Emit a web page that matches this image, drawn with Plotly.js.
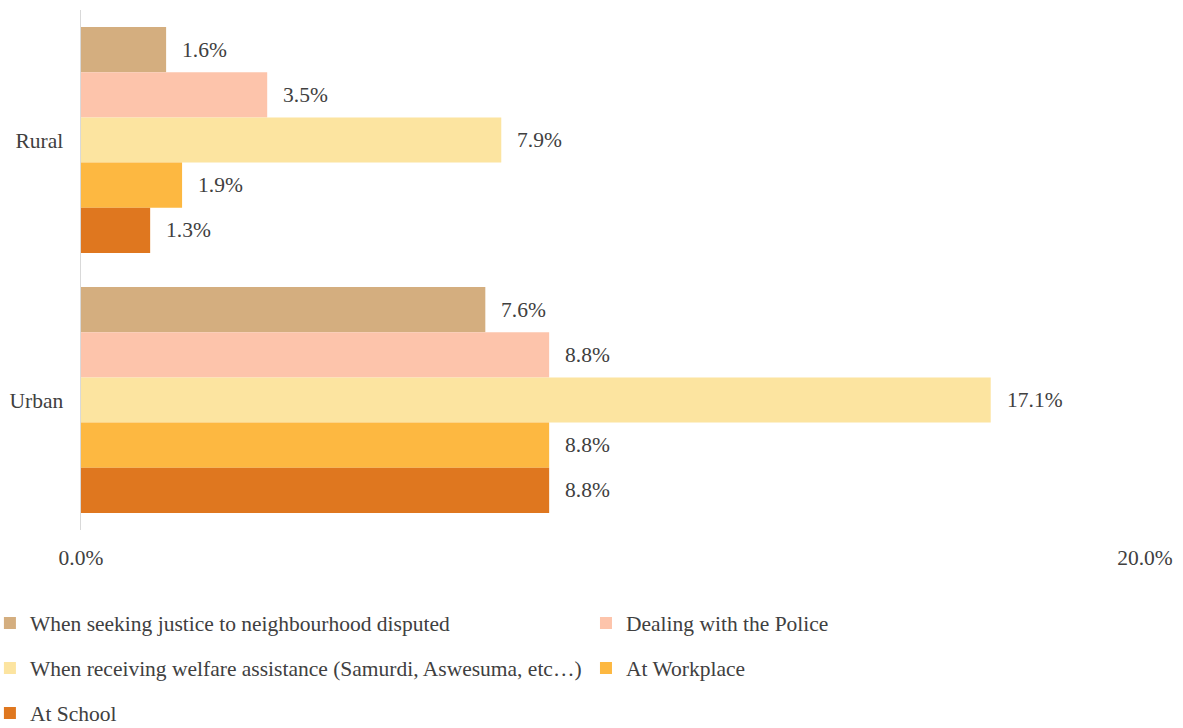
<!DOCTYPE html>
<html>
<head>
<meta charset="utf-8">
<script src="https://cdn.plot.ly/plotly-3.0.1.min.js"></script>
<style>html,body{margin:0;padding:0;background:#fff;}#chart{width:1183px;height:728px;}</style>
</head>
<body>
<div id="chart"></div>
<script>
const categories = ["Rural", "Urban"];
const seriesNames = [
  "When seeking justice to neighbourhood disputed",
  "Dealing with the Police",
  "When receiving welfare assistance (Samurdi, Aswesuma, etc…)",
  "At Workplace",
  "At School"
];
const neighbourhood = [1.6, 7.6];
const police = [3.5, 8.8];
const welfare = [7.9, 17.1];
const workplace = [1.9, 8.8];
const school = [1.3, 8.8];
const seriesValues = [neighbourhood, police, welfare, workplace, school];
const colors = ["#D4AE7F", "#FDC4AB", "#FCE4A0", "#FDB841", "#DF771F"];
const xTickVals = [0, 20];
const xTickText = ["0.0%", "20.0%"];

const FONT = "'Liberation Serif', 'Times New Roman', serif";
const FS = 21.5;
const TXT = "#404040";
const bargap = 0.13;
const barW = (1 - bargap) / seriesValues.length;

// legend placement (paper coords): [x, y] for each series
const legendPos = [[-0.0856, -0.1788], [0.4746, -0.1788], [-0.0856, -0.2654], [0.4746, -0.2654], [-0.0856, -0.3519]];

const traces = seriesValues.map((vals, i) => ({
  type: "bar",
  orientation: "h",
  name: seriesNames[i],
  y: categories,
  x: vals,
  marker: {color: colors[i], line: {width: 0}},
  legend: i === 0 ? "legend" : "legend" + (i + 1),
  hoverinfo: "x+name"
}));

const annotations = [];
seriesValues.forEach((vals, i) => {
  vals.forEach((v, c) => {
    annotations.push({
      x: v, y: c + (i - (seriesValues.length - 1) / 2) * barW,
      xref: "x", yref: "y",
      text: v.toFixed(1) + "%",
      showarrow: false, xanchor: "left", yanchor: "middle", xshift: 14,
      font: {family: FONT, size: FS, color: TXT}
    });
  });
});

const layout = {
  width: 1183, height: 728,
  margin: {l: 81, r: 38, t: 10, b: 198, autoexpand: false},
  paper_bgcolor: "#fff", plot_bgcolor: "#fff",
  barmode: "group", bargap: bargap, bargroupgap: 0,
  font: {family: FONT, size: FS, color: TXT},
  xaxis: {range: [0, 20], tickvals: xTickVals, ticktext: xTickText, showgrid: false,
          zeroline: false, showline: false, ticks: "", ticklabelstandoff: 12, automargin: false,
          tickfont: {family: FONT, size: FS, color: TXT}, fixedrange: true},
  yaxis: {type: "category", autorange: "reversed", showgrid: false, zeroline: false, automargin: false,
          showline: true, linecolor: "#D9D9D9", linewidth: 1.5, ticks: "", ticklabelstandoff: 12,
          tickfont: {family: FONT, size: FS, color: TXT}, fixedrange: true},
  annotations: annotations,
  showlegend: true
};
legendPos.forEach((p, i) => {
  const key = i === 0 ? "legend" : "legend" + (i + 1);
  layout[key] = {x: p[0], y: p[1], xanchor: "left", yanchor: "middle", orientation: "h",
                 bgcolor: "rgba(0,0,0,0)", borderwidth: 0,
                 font: {family: FONT, size: FS, color: TXT}};
});

Plotly.newPlot("chart", traces, layout, {displayModeBar: false, staticPlot: true});
</script>
</body>
</html>
